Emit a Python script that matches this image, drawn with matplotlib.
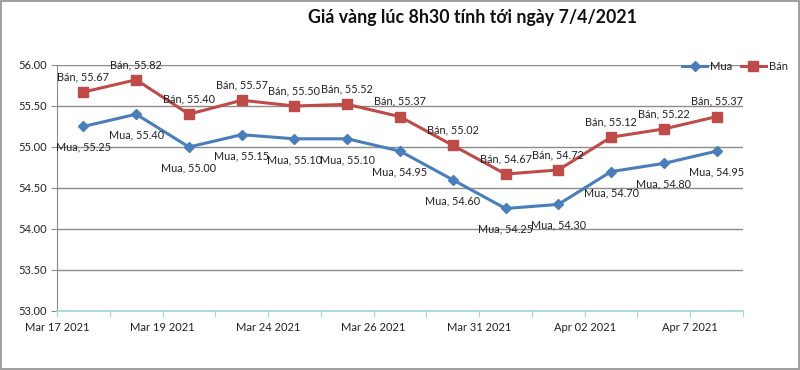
import matplotlib
matplotlib.use("Agg")
import matplotlib.pyplot as plt
import numpy as np

plt.rcParams['font.family'] = ['Lato', 'DejaVu Sans']

title = "Giá vàng lúc 8h30 tính tới ngày 7/4/2021"
tick_labels = ["Mar 17 2021", "Mar 19 2021", "Mar 24 2021", "Mar 26 2021",
               "Mar 31 2021", "Apr 02 2021", "Apr 7 2021"]
mua = [55.25, 55.40, 55.00, 55.15, 55.10, 55.10, 54.95, 54.60, 54.25, 54.30, 54.70, 54.80, 54.95]
ban = [55.67, 55.82, 55.40, 55.57, 55.50, 55.52, 55.37, 55.02, 54.67, 54.72, 55.12, 55.22, 55.37]
series_names = ["Mua", "Bán"]

blue = "#4A7EBB"
red = "#BE4B48"

fig = plt.figure(figsize=(8, 3.7), dpi=100)
fig.patch.set_facecolor("white")
fig.patch.set_edgecolor("#A0A0A0")
fig.patch.set_linewidth(1.5)
ax = fig.add_axes([57/800, 1-311/370, (743-57)/800, (311-65)/370])

x = np.arange(len(mua))
ax.plot(x, mua, color=blue, lw=2.2, marker="D", ms=5.5, label=series_names[0], zorder=3)
ax.plot(x, ban, color=red, lw=2.2, marker="s", ms=7, label=series_names[1], zorder=3)

for xi, v in zip(x, mua):
    ax.annotate(f"{series_names[0]}, {v:.2f}", (xi, v), xytext=(0, -15), textcoords="offset points",
                ha="center", va="center", fontsize=7.8, color="#222222")
for xi, v in zip(x, ban):
    ax.annotate(f"{series_names[1]}, {v:.2f}", (xi, v), xytext=(0, 11), textcoords="offset points",
                ha="center", va="center", fontsize=7.8, color="#222222")

ax.set_xlim(-0.5, len(mua) - 0.5)
ax.set_ylim(53, 56)
ax.set_yticks(np.arange(53, 56.01, 0.5))
ax.set_yticklabels([f"{v:.2f}" for v in np.arange(53, 56.01, 0.5)], fontsize=8, color="#222222")
ax.set_xticks(np.arange(-0.5, len(mua), 1), minor=False)
ax.set_xticklabels([tick_labels[i // 2] if i % 2 == 0 else "" for i in range(len(mua) + 1)],
                   fontsize=8, color="#222222")
ax.tick_params(axis="x", length=4, color="#9ED8DC", pad=4)
ax.tick_params(axis="y", length=4, color="#888888", pad=3)

ax.grid(axis="y", color="#8C8C8C", lw=1)
ax.set_axisbelow(True)
for s in ["top", "right"]:
    ax.spines[s].set_visible(False)
ax.spines["left"].set_color("#8C8C8C")
ax.spines["bottom"].set_color("#9ED8DC")
ax.spines["bottom"].set_linewidth(1.2)

fig.text(472/800, 1-17/370, title, ha="center", va="center", fontsize=12.8, fontweight="bold", color="#111111")

leg = fig.legend(loc="center right", bbox_to_anchor=(798/800, 1-66/370), ncol=2, frameon=False,
                 fontsize=8, handlelength=2.2, columnspacing=0.8, handletextpad=0.3)
for t in leg.get_texts():
    t.set_color("#222222")

fig.savefig("out.png", dpi=100)
